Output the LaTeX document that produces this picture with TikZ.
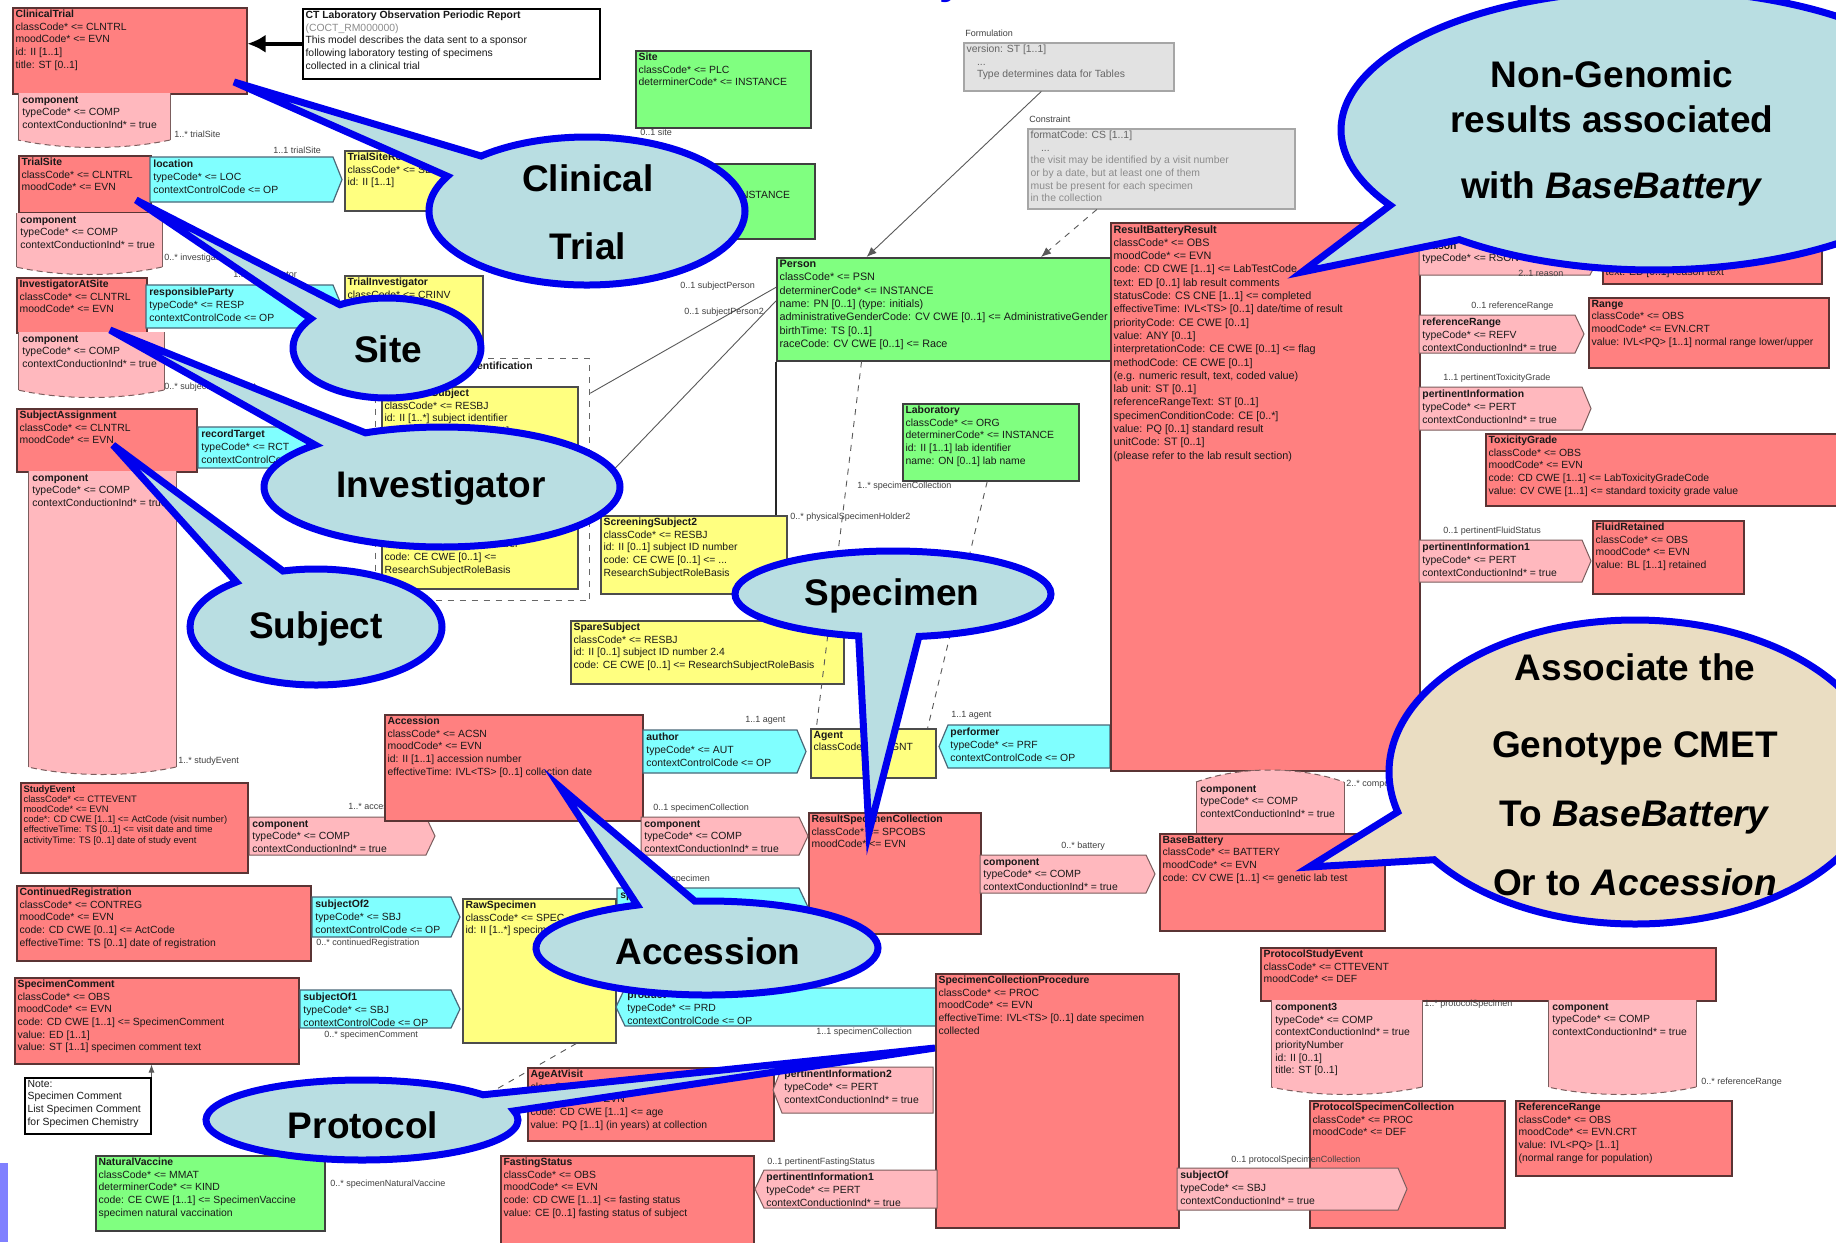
\documentclass[tikz,border=0pt]{standalone}
\usepackage{fontspec}
\setmainfont{Liberation Sans}
\usetikzlibrary{shapes.callouts,arrows.meta,calc}

\definecolor{umlred}{HTML}{FF8080}
\definecolor{umlpink}{HTML}{FFB8BE}
\definecolor{umlcyan}{HTML}{80FFFF}
\definecolor{umlyellow}{HTML}{FFFF80}
\definecolor{umlgreen}{HTML}{80FF80}
\definecolor{umlgray}{HTML}{E2E2E2}
\definecolor{boxedge}{HTML}{5A3434}
\definecolor{calloutfill}{HTML}{B9DEE2}
\definecolor{calloutedge}{HTML}{0000EE}
\definecolor{parchment}{HTML}{EADDC2}
\definecolor{sidebar}{HTML}{8080FF}

\tikzset{
  boxbase/.style={draw=boxedge, line width=0.75pt, inner sep=0pt, anchor=north west},
  redbox/.style={boxbase, fill=umlred},
  greenbox/.style={boxbase, fill=umlgreen, draw=black!75},
  yellowbox/.style={boxbase, fill=umlyellow, draw=black!70},
  graybox/.style={boxbase, fill=umlgray, draw=black!35},
  notebox/.style={boxbase, fill=white, draw=black},
  pinkshape/.style={fill=umlpink, draw=boxedge!80, line width=0.5pt},
  cyanshape/.style={fill=umlcyan, draw=black!60!cyan, line width=0.6pt},
  compedge/.style={draw=boxedge!80, line width=0.5pt},
  btext/.style={anchor=north west, inner sep=0pt, align=left, text=black!90, font=\fontsize{5.2}{6.3}\selectfont},
  widetext/.style={font=\fontsize{5.4}{6.65}\selectfont},
  tighttext/.style={font=\fontsize{4.7}{5.1}\selectfont},
  rolelabel/.style={anchor=north west, inner sep=0pt, font=\fontsize{4.5}{5}\selectfont, text=black!75},
  assoc/.style={draw=black!65, line width=0.45pt},
  balloon/.style={ellipse callout, draw=calloutedge, line width=3.5pt, fill=calloutfill, inner sep=0pt},
  balloontext/.style={align=center, inner sep=0pt, font=\bfseries\fontsize{18.5}{34}\selectfont},
}

% class box: [text style], style, name, x, y, width, height, text
\newcommand\umlbox[8][]{%
  \node[#2, minimum width=#6*0.5pt, minimum height=#7*0.5pt] (#3) at (#4,#5) {};
  \node[btext,#1] (#3-txt) at ([xshift=1.6pt,yshift=-1.4pt]#3.north west) {#8};}
% act relationship pointing right: style, name, x, y, width, height, text
\newcommand\relright[7]{%
  \path[#1] (#3,#4) -- ++(#5-9,0) -- ++(9,#6/2) -- ++(-9,#6/2) -- ++(-#5+9,0) -- cycle;
  \node[btext] (#2) at (#3+3,#4+3) {#7};}
% act relationship pointing left
\newcommand\relleft[7]{%
  \path[#1] (#3,#4+#6/2) -- ++(9,-#6/2) -- ++(#5-9,0) -- ++(0,#6) -- ++(-#5+9,0) -- cycle;
  \node[btext] (#2) at (#3+11,#4+3) {#7};}
% vertical component with dashed lower edge: name, x, y, width, height, text
\newcommand\compdown[6]{%
  \fill[umlpink] (#2,#3) -- ++(#4,0) -- ++(0,#5) .. controls +(-#4*0.3,10) and +(#4*0.3,10) .. ++(-#4,0) -- cycle;
  \draw[compedge] (#2,#3+#5) -- (#2,#3) (#2+#4,#3) -- (#2+#4,#3+#5);
  \draw[compedge, dash pattern=on 3pt off 2pt] (#2+#4,#3+#5) .. controls +(-#4*0.3,10) and +(#4*0.3,10) .. (#2,#3+#5);
  \node[btext] (#1) at (#2+4,#3+3) {#6};}
% vertical component with dashed upper edge
\newcommand\compup[6]{%
  \fill[umlpink] (#2,#3+#5) -- (#2,#3) .. controls +(#4*0.3,-16) and +(-#4*0.3,-16) .. (#2+#4,#3) -- (#2+#4,#3+#5) -- cycle;
  \draw[compedge] (#2,#3+#5) -- (#2,#3) (#2+#4,#3) -- (#2+#4,#3+#5);
  \draw[compedge, dash pattern=on 3pt off 2pt] (#2,#3) .. controls +(#4*0.3,-16) and +(-#4*0.3,-16) .. (#2+#4,#3);
  \node[btext] (#1) at (#2+4,#3+3) {#6};}

\begin{document}
\begin{tikzpicture}[x=0.5pt,y=-0.5pt]
\useasboundingbox (0,0) rectangle (1836,1242);
\fill[white] (0,0) rectangle (1836,1242);

% heading descender
\node[text=calloutedge, inner sep=0pt, anchor=base, font=\bfseries\fontsize{22}{22}\selectfont] (ttl) at (952,-6) {y};

% ---------------- left column
\umlbox{redbox}{ct}{12}{7}{234}{86}{\textbf{ClinicalTrial}\\classCode* <= CLNTRL\\moodCode* <= EVN\\id: II [1..1]\\title: ST [0..1]}
\umlbox{notebox}{rpt}{302}{8}{297}{70}{\textbf{CT Laboratory Observation Periodic Report}\\{\color{black!45}(COCT\_RM000000)}\\This model describes the data sent to a sponsor\\following laboratory testing of specimens\\collected in a clinical trial}
\draw[line width=2pt, -{Latex[length=9pt,width=9pt]}] (rpt.west) -- (rpt.west -| ct.east);

\compdown{comp1}{18}{93}{152}{47}{\textbf{component}\\typeCode* <= COMP\\contextConductionInd* = true}
\node[rolelabel] (l1) at (174,131) {1..* trialSite};

\umlbox{redbox}{ts}{18}{155}{132}{57}{\textbf{TrialSite}\\classCode* <= CLNTRL\\moodCode* <= EVN}
\relright{cyanshape}{loc}{150}{157}{192}{45}{\textbf{location}\\typeCode* <= LOC\\contextControlCode <= OP}
\node[rolelabel] (l2) at (273,147) {1..1 trialSite};
\umlbox{yellowbox}{tsr}{344}{150}{122}{60}{\textbf{TrialSiteRole}\\classCode* <= SDLOC\\id: II [1..1]}

\compdown{comp2}{16}{213}{146}{54}{\textbf{component}\\typeCode* <= COMP\\contextConductionInd* = true}
\node[rolelabel] (l3) at (164,254) {0..* investigatorAtSite};

\umlbox{redbox}{ias}{16}{277}{130}{55}{\textbf{InvestigatorAtSite}\\classCode* <= CLNTRL\\moodCode* <= EVN}
\relright{cyanshape}{rp}{146}{285}{196}{43}{\textbf{responsibleParty}\\typeCode* <= RESP\\contextControlCode <= OP}
\node[rolelabel] (l4) at (233,271) {1..1 investigator};
\umlbox{yellowbox}{tinv}{344}{275}{138}{65}{\textbf{TrialInvestigator}\\classCode* <= CRINV\\id: II [1..1]}

\compdown{comp3}{18}{332}{146}{58}{\textbf{component}\\typeCode* <= COMP\\contextConductionInd* = true}
\node[rolelabel] (l5) at (164,383) {0..* subjectAssignment};

\umlbox{redbox}{sa}{16}{408}{180}{63}{\textbf{SubjectAssignment}\\classCode* <= CLNTRL\\moodCode* <= EVN}
\relright{cyanshape}{rt}{198}{427}{122}{41}{\textbf{recordTarget}\\typeCode* <= RCT\\contextControlCode <= OP}

\compdown{comp4}{28}{471}{148}{296}{\textbf{component}\\typeCode* <= COMP\\contextConductionInd* = true}
\node[rolelabel] (l6) at (178,757) {1..* studyEvent};

\umlbox[tighttext]{redbox}{se}{20}{782}{227}{90}{\textbf{StudyEvent}\\classCode* <= CTTEVENT\\moodCode* <= EVN\\code*: CD CWE [1..1] <= ActCode (visit number)\\effectiveTime: TS [0..1] <= visit date and time\\activityTime: TS [0..1] date of study event}
\relright{pinkshape}{comp5}{249}{817}{186}{38}{\textbf{component}\\typeCode* <= COMP\\contextConductionInd* = true}
\node[rolelabel] (l7) at (348,803) {1..* accession};

\umlbox{redbox}{cr}{16}{885}{294}{75}{\textbf{ContinuedRegistration}\\classCode* <= CONTREG\\moodCode* <= EVN\\code: CD CWE [0..1] <= ActCode\\effectiveTime: TS [0..1] date of registration}
\relright{cyanshape}{so2}{312}{897}{148}{40}{\textbf{subjectOf2}\\typeCode* <= SBJ\\contextControlCode <= OP}
\node[rolelabel] (l8) at (316,939) {0..* continuedRegistration};

\umlbox{redbox}{sc}{14}{977}{284}{86}{\textbf{SpecimenComment}\\classCode* <= OBS\\moodCode* <= EVN\\code: CD CWE [1..1] <= SpecimenComment\\value: ED [1..1]\\value: ST [1..1] specimen comment text}
\relright{cyanshape}{so1}{300}{990}{160}{38}{\textbf{subjectOf1}\\typeCode* <= SBJ\\contextControlCode <= OP}
\node[rolelabel] (l9) at (324,1031) {0..* specimenComment};

\umlbox{notebox}{note2}{24}{1077}{126}{56}{Note:\\Specimen Comment\\List Specimen Comment\\for Specimen Chemistry}
\draw[assoc, -{Latex[length=4pt,width=3pt]}] (note2.north east) -- (note2.north east |- sc.south);

\umlbox{greenbox}{nv}{95}{1155}{229}{75}{\textbf{NaturalVaccine}\\classCode* <= MMAT\\determinerCode* <= KIND\\code: CE CWE [1..1] <= SpecimenVaccine\\specimen natural vaccination}
\node[rolelabel] (l10) at (330,1180) {0..* specimenNaturalVaccine};

% ---------------- middle
\umlbox{greenbox}{site}{635}{50}{175}{77}{\textbf{Site}\\classCode* <= PLC\\determinerCode* <= INSTANCE}
\node[rolelabel] (l11) at (640,129) {0..1 site};
\umlbox{greenbox}{org}{638}{163}{176}{75}{\textbf{Organization}\\classCode* <= ORG\\determinerCode* <= INSTANCE}

\node[rolelabel] (g1t) at (965,30) {Formulation};
\umlbox{graybox}{g1}{963}{42}{210}{48}{{\color{black!60}version: ST [1..1]}\\{\color{black!60}\quad ...}\\{\color{black!60}\quad Type determines data for Tables}}
\node[rolelabel] (g2t) at (1029,116) {Constraint};
\umlbox{graybox}{g2}{1027}{128}{267}{80}{{\color{black!60}formatCode: CS [1..1]}\\{\color{black!60}\quad ...}\\{\color{black!45}the visit may be identified by a visit number}\\{\color{black!45}or by a date, but at least one of them}\\{\color{black!45}must be present for each specimen}\\{\color{black!45}in the collection}}

\umlbox[widetext]{greenbox}{person}{776}{257}{334}{103}{\textbf{Person}\\classCode* <= PSN\\determinerCode* <= INSTANCE\\name: PN [0..1] (type: initials)\\administrativeGenderCode: CV CWE [0..1] <= AdministrativeGender\\birthTime: TS [0..1]\\raceCode: CV CWE [0..1] <= Race}
\draw[assoc, -{Latex[length=5pt,width=4pt]}] ($(g1.south west)!0.37!(g1.south east)$) -- ($(person.north west)!0.27!(person.north east)$);
\draw[assoc, dashed, -{Latex[length=5pt,width=4pt]}] ($(g2.south west)!0.26!(g2.south east)$) -- ($(person.north west)!0.79!(person.north east)$);

\node[draw=black!60, dashed, line width=0.6pt, anchor=north west, inner sep=0pt, minimum width=107pt, minimum height=121pt] (cont) at (375,358) {};
\node[btext] (cont-t) at (430,362) {\textbf{SubjectIdentification}};
\umlbox{yellowbox}{subj}{381}{386}{196}{202}{\textbf{ResearchSubject}\\classCode* <= RESBJ\\id: II [1..*] subject identifier\\statusCode: CS CNE [0..1]\\effectiveTime: IVL<TS> [0..1]\\confidentialityCode: CE [0..1]\\subject: Person [0..1]\\\quad name: PN [0..1]\\\quad birthTime: TS [0..1]\\\quad genderCode: CV [0..1]\\\quad raceCode: CV [0..1]\\id: II [0..1] screening number\\id: II [0..1] subject ID number\\code: CE CWE [0..1] <=\\ResearchSubjectRoleBasis}
\draw[assoc] ($(person.north west)!0.29!(person.south west)$) -- ($(cont.north east)!0.145!(cont.south east)$);
\draw[assoc] ($(person.north west)!0.42!(person.south west)$) -- ($(cont.north east)!0.56!(cont.south east)$);
\node[rolelabel] (l12) at (680,282) {0..1 subjectPerson};
\node[rolelabel] (l13) at (684,308) {0..1 subjectPerson2};

\umlbox{yellowbox}{ss2}{600}{515}{186}{78}{\textbf{ScreeningSubject2}\\classCode* <= RESBJ\\id: II [0..1] subject ID number\\code: CE CWE [0..1] <= ...\\ResearchSubjectRoleBasis}
\draw[assoc, draw=black!85, line width=0.6pt] (person.south west) -- (person.south west |- ss2.north);

\umlbox{yellowbox}{spare}{570}{620}{273}{63}{\textbf{SpareSubject}\\classCode* <= RESBJ\\id: II [0..1] subject ID number 2.4\\code: CE CWE [0..1] <= ResearchSubjectRoleBasis}

\umlbox{greenbox}{lab}{902}{403}{176}{77}{\textbf{Laboratory}\\classCode* <= ORG\\determinerCode* <= INSTANCE\\id: II [1..1] lab identifier\\name: ON [0..1] lab name}

\umlbox{redbox}{acc}{384}{714}{258}{106}{\textbf{Accession}\\classCode* <= ACSN\\moodCode* <= EVN\\id: II [1..1] accession number\\effectiveTime: IVL<TS> [0..1] collection date}
\relright{cyanshape}{auth}{643}{730}{163}{43}{\textbf{author}\\typeCode* <= AUT\\contextControlCode <= OP}
\node[rolelabel] (l14) at (745,716) {1..1 agent};
\umlbox{yellowbox}{agent}{810}{728}{125}{49}{\textbf{Agent}\\classCode* <= AGNT}
\relleft{cyanshape}{perf}{939}{725}{171}{43}{\textbf{performer}\\typeCode* <= PRF\\contextControlCode <= OP}
\node[rolelabel] (l15) at (951,711) {1..1 agent};

\draw[assoc, dashed] ($(person.south west)!0.255!(person.south east)$) -- ($(agent.north west)!0.05!(agent.north east)$);
\draw[assoc, dashed] ($(lab.south west)!0.48!(lab.south east)$) -- ($(agent.north west)!0.93!(agent.north east)$);
\node[rolelabel] (l16) at (857,482) {1..* specimenCollection};
\node[rolelabel] (l17) at (790,513) {0..* physicalSpecimenHolder2};

% ---------------- result side
\umlbox[widetext]{redbox}{res}{1110}{222}{309}{548}{\textbf{ResultBatteryResult}\\classCode* <= OBS\\moodCode* <= EVN\\code: CD CWE [1..1] <= LabTestCode\\text: ED [0..1] lab result comments\\statusCode: CS CNE [1..1] <= completed\\effectiveTime: IVL<TS> [0..1] date/time of result\\priorityCode: CE CWE [0..1]\\value: ANY [0..1]\\interpretationCode: CE CWE [0..1] <= flag\\methodCode: CE CWE [0..1]\\(e.g. numeric result, text, coded value)\\lab unit: ST [0..1]\\referenceRangeText: ST [0..1]\\specimenConditionCode: CE [0..*]\\value: PQ [0..1] standard result\\unitCode: ST [0..1]\\(please refer to the lab result section)}

\relright{pinkshape}{pr0}{1419}{240}{180}{35}{\textbf{reason}\\typeCode* <= RSON}
\umlbox{redbox}{r0}{1602}{240}{219}{43}{\textbf{ResultReason}\\classCode* <= OBS\\text: ED [0..1] reason text}
\node[rolelabel] (l18) at (1518,270) {2..1 reason};

\relright{pinkshape}{rr}{1419}{315}{165}{38}{\textbf{referenceRange}\\typeCode* <= REFV\\contextConductionInd* = true}
\node[rolelabel] (l19) at (1471,302) {0..1 referenceRange};
\umlbox{redbox}{range}{1588}{297}{240}{70}{\textbf{Range}\\classCode* <= OBS\\moodCode* <= EVN.CRT\\value: IVL<PQ> [1..1] normal range lower/upper}

\node[rolelabel] (l20) at (1443,374) {1..1 pertinentToxicityGrade};
\relright{pinkshape}{pi1}{1419}{387}{172}{43}{\textbf{pertinentInformation}\\typeCode* <= PERT\\contextConductionInd* = true}
\umlbox{redbox}{tox}{1485}{433}{360}{72}{\textbf{ToxicityGrade}\\classCode* <= OBS\\moodCode* <= EVN\\code: CD CWE [1..1] <= LabToxicityGradeCode\\value: CV CWE [1..1] <= standard toxicity grade value}

\node[rolelabel] (l21) at (1443,527) {0..1 pertinentFluidStatus};
\relright{pinkshape}{pi2}{1419}{540}{172}{42}{\textbf{pertinentInformation1}\\typeCode* <= PERT\\contextConductionInd* = true}
\umlbox{redbox}{fluid}{1592}{520}{151}{73}{\textbf{FluidRetained}\\classCode* <= OBS\\moodCode* <= EVN\\value: BL [1..1] retained}

\compup{cbb}{1196}{782}{148}{51}{\textbf{component}\\typeCode* <= COMP\\contextConductionInd* = true}
\node[rolelabel] (l22) at (1346,780) {2..* component};
\umlbox{redbox}{bb}{1159}{833}{225}{97}{\textbf{BaseBattery}\\classCode* <= BATTERY\\moodCode* <= EVN\\code: CV CWE [1..1] <= genetic lab test}

\umlbox{redbox}{rsc}{808}{812}{172}{121}{\textbf{ResultSpecimenCollection}\\classCode* <= SPCOBS\\moodCode* <= EVN}
\relright{pinkshape}{comp6}{980}{855}{175}{38}{\textbf{component}\\typeCode* <= COMP\\contextConductionInd* = true}
\node[rolelabel] (l23) at (1061,842) {0..* battery};
\relright{pinkshape}{comp7}{641}{817}{167}{38}{\textbf{component}\\typeCode* <= COMP\\contextConductionInd* = true}
\node[rolelabel] (l24) at (653,804) {0..1 specimenCollection};

% ---------------- specimen and protocol
\relright{cyanshape}{spcbar}{617}{888}{191}{38}{\textbf{specimen}\\typeCode* <= SPC\\contextControlCode <= OP}
\node[rolelabel] (l25) at (655,875) {1..* specimen};
\umlbox{yellowbox}{raw}{462}{898}{153}{144}{\textbf{RawSpecimen}\\classCode* <= SPEC\\id: II [1..*] specimen identifier}
\relleft{cyanshape}{prod}{616}{988}{321}{38}{\textbf{product}\\typeCode* <= PRD\\contextControlCode <= OP}
\node[rolelabel] (l26) at (816,1028) {1..1 specimenCollection};
\umlbox{redbox}{scp}{935}{973}{243}{254}{\textbf{SpecimenCollectionProcedure}\\classCode* <= PROC\\moodCode* <= EVN\\effectiveTime: IVL<TS> [0..1] date specimen\\collected}
\coordinate (rawlink) at (488,1094);
\draw[assoc, dashed] ($(raw.south west)!0.74!(raw.south east)$) -- (rawlink);

\umlbox{redbox}{age}{527}{1067}{246}{73}{\textbf{AgeAtVisit}\\classCode* <= OBS\\moodCode* <= EVN\\code: CD CWE [1..1] <= age\\value: PQ [1..1] (in years) at collection}
\relleft{pinkshape}{pi3}{773}{1067}{160}{46}{\textbf{pertinentInformation2}\\typeCode* <= PERT\\contextConductionInd* = true}

\umlbox{redbox}{fast}{500}{1155}{253}{95}{\textbf{FastingStatus}\\classCode* <= OBS\\moodCode* <= EVN\\code: CD CWE [1..1] <= fasting status\\value: CE [0..1] fasting status of subject}
\relleft{pinkshape}{pi4}{755}{1170}{182}{38}{\textbf{pertinentInformation1}\\typeCode* <= PERT\\contextConductionInd* = true}
\node[rolelabel] (l27) at (767,1158) {0..1 pertinentFastingStatus};

\umlbox{redbox}{pse}{1260}{947}{455}{53}{\textbf{ProtocolStudyEvent}\\classCode* <= CTTEVENT\\moodCode* <= DEF}
\compdown{comp8}{1271}{1000}{151}{87}{\textbf{component3}\\typeCode* <= COMP\\contextConductionInd* = true\\priorityNumber\\id: II [0..1]\\title: ST [0..1]}
\node[rolelabel] (l28) at (1424,1000) {1..* protocolSpecimen};
\compdown{comp9}{1548}{1000}{148}{87}{\textbf{component}\\typeCode* <= COMP\\contextConductionInd* = true}
\node[rolelabel] (l29) at (1701,1078) {0..* referenceRange};
\umlbox{redbox}{psc}{1309}{1100}{195}{127}{\textbf{ProtocolSpecimenCollection}\\classCode* <= PROC\\moodCode* <= DEF}
\umlbox{redbox}{refr}{1515}{1100}{216}{75}{\textbf{ReferenceRange}\\classCode* <= OBS\\moodCode* <= EVN.CRT\\value: IVL<PQ> [1..1]\\(normal range for population)}
\relright{pinkshape}{subjof}{1177}{1168}{230}{42}{\textbf{subjectOf}\\typeCode* <= SBJ\\contextConductionInd* = true}
\node[rolelabel] (l30) at (1231,1156) {0..1 protocolSpecimenCollection};

\fill[sidebar] (0,1163) rectangle (8,1242);

% ---------------- speech balloons
\node[balloon, minimum width=158pt, minimum height=74pt, callout absolute pointer={(234,82)}, callout pointer arc=20] (bct) at (587,211) {};
\node[balloontext] (bct-txt) at (588,212) {Clinical\\Trial};

\node[balloon, minimum width=94pt, minimum height=50pt, callout absolute pointer={(136,200)}, callout pointer arc=24] (bsite) at (387,348) {};
\node[balloontext] (bsite-txt) at (388,349) {Site};

\node[balloon, minimum width=178pt, minimum height=60pt, callout absolute pointer={(110,330)}, callout pointer arc=20] (binv) at (442,487) {};
\node[balloontext] (binv-txt) at (441,488) {Investigator};

\node[balloon, minimum width=126pt, minimum height=58pt, callout absolute pointer={(113,445)}, callout pointer arc=24] (bsubj) at (316,627) {};
\node[balloontext] (bsubj-txt) at (316,629) {Subject};

\node[balloon, minimum width=158pt, minimum height=43pt, callout absolute pointer={(869,832)}, callout pointer arc=22] (bspec) at (893,594) {};
\node[balloontext] (bspec-txt) at (892,596) {Specimen};

\node[balloon, minimum width=171pt, minimum height=47pt, callout absolute pointer={(560,787)}, callout pointer arc=20] (bacc) at (707,948) {};
\node[balloontext] (bacc-txt) at (708,951) {Accession};

\node[balloon, minimum width=156pt, minimum height=40pt, callout absolute pointer={(935,1048)}, callout pointer arc=26] (bprot) at (362,1120) {};
\node[balloontext] (bprot-txt) at (363,1125) {Protocol};

\node[balloon, minimum width=313pt, minimum height=140pt, callout absolute pointer={(1302,272)}, callout pointer arc=19] (bng) at (1654,130) {};
\node[balloontext, font=\bfseries\fontsize{18.5}{22.5}\selectfont] (bng-txt) at (1612,133) {Non-Genomic\\results associated\\[10.5pt]with \textit{BaseBattery}};

\node[balloon, fill=parchment, minimum width=246pt, minimum height=152pt, callout absolute pointer={(1309,867)}, callout pointer arc=20] (bgen) at (1635,772) {};
\node[balloontext, font=\bfseries\fontsize{18.5}{34.5}\selectfont] (bgen-txt) at (1635,775) {Associate the\\[4pt]Genotype CMET\\To \textit{BaseBattery}\\Or to \textit{Accession}};

\end{tikzpicture}
\end{document}
